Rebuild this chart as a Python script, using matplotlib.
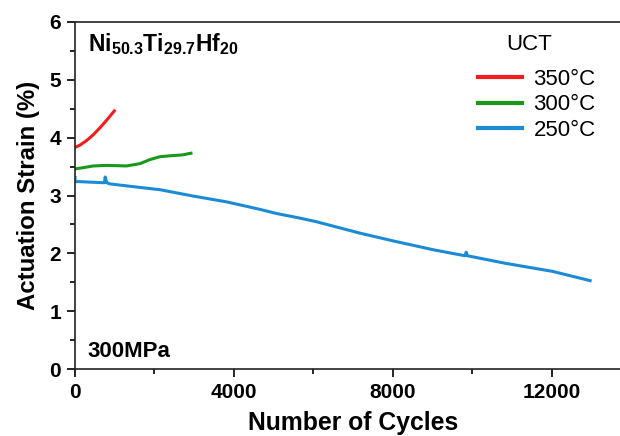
import matplotlib
matplotlib.use("Agg")
import matplotlib.pyplot as plt
from matplotlib.ticker import MultipleLocator

plt.rcParams['font.family'] = ['Liberation Sans', 'DejaVu Sans']
plt.rcParams['mathtext.fontset'] = 'custom'
plt.rcParams['mathtext.rm'] = 'Liberation Sans'
plt.rcParams['mathtext.bf'] = 'Liberation Sans:bold'
plt.rcParams['mathtext.it'] = 'Liberation Sans:italic'

# ---- data ----
cycles_350 = [0, 126, 294, 462, 630, 797, 990]
strain_350 = [3.83, 3.87, 3.95, 4.05, 4.17, 4.30, 4.46]

cycles_300 = [0, 200, 462, 797, 1300, 1636, 1888, 2140, 2475, 2700, 2920]
strain_300 = [3.46, 3.48, 3.51, 3.52, 3.51, 3.55, 3.62, 3.67, 3.69, 3.70, 3.73]

cycles_250 = [0, 0, 100, 400, 740, 760, 800, 880, 1500, 2140, 2979, 3818, 4274,
              4658, 5070, 5660, 6063, 7176, 8051, 9046, 9820, 9850, 9880,
              10834, 12027, 12971]
strain_250 = [3.31, 3.24, 3.24, 3.23, 3.22, 3.32, 3.22, 3.20, 3.15, 3.10, 2.99,
              2.89, 2.82, 2.76, 2.69, 2.61, 2.55, 2.35, 2.21, 2.06, 1.96, 2.02,
              1.96, 1.83, 1.69, 1.53]

labels = ['350°C', '300°C', '250°C']
colors = ['#f21d1d', '#18991a', '#1c8bd6']
xticks = [0, 4000, 8000, 12000]
yticks = [0, 1, 2, 3, 4, 5, 6]

fig = plt.figure(figsize=(6.2, 4.36), dpi=100)
ax = fig.add_axes([75/620, (436-369.3)/436, (631-75)/620, 347.6/436])

l3, = ax.plot(cycles_250, strain_250, color=colors[2], lw=2.2, label=labels[2])
l2, = ax.plot(cycles_300, strain_300, color=colors[1], lw=2.2, label=labels[1])
l1, = ax.plot(cycles_350, strain_350, color=colors[0], lw=2.2, label=labels[0])

ax.set_xlim(0, 14000)
ax.set_ylim(0, 6)
ax.set_xticks(xticks)
ax.set_yticks(yticks)
ax.xaxis.set_minor_locator(MultipleLocator(2000))
ax.yaxis.set_minor_locator(MultipleLocator(0.5))
ax.tick_params(which='major', direction='out', length=6, width=1.2, labelsize=15, pad=4)
ax.tick_params(which='minor', direction='out', length=3.5, width=1.2)
for lab in ax.get_xticklabels() + ax.get_yticklabels():
    lab.set_fontweight('bold')
for s in ax.spines.values():
    s.set_linewidth(1.2)
    s.set_color('#222222')

ax.set_xlabel('Number of Cycles', fontsize=17.8, fontweight='bold', labelpad=6)
ax.set_ylabel('Actuation Strain (%)', fontsize=17.3, fontweight='bold', labelpad=7)

ax.text(0.023, 0.914, r'$\mathbf{Ni_{50.3}Ti_{29.7}Hf_{20}}$', transform=ax.transAxes,
        fontsize=16.5, va='baseline', ha='left')
ax.text(0.023, 0.036, '300MPa', transform=ax.transAxes, fontsize=16,
        fontweight='bold', va='baseline', ha='left')

fig.text(529/620, 1 - 44/436, 'UCT', fontsize=16, ha='center', va='center')
leg = fig.legend(handles=[l1, l2, l3], labels=labels,
                 loc='upper left', bbox_to_anchor=(478/620, 1 - 69/436),
                 frameon=False, fontsize=16,
                 handlelength=2.0, handletextpad=0.5, labelspacing=0.2,
                 borderpad=0, borderaxespad=0)
for h in leg.legend_handles:
    h.set_linewidth(3)

fig.savefig('out.png', dpi=100)
